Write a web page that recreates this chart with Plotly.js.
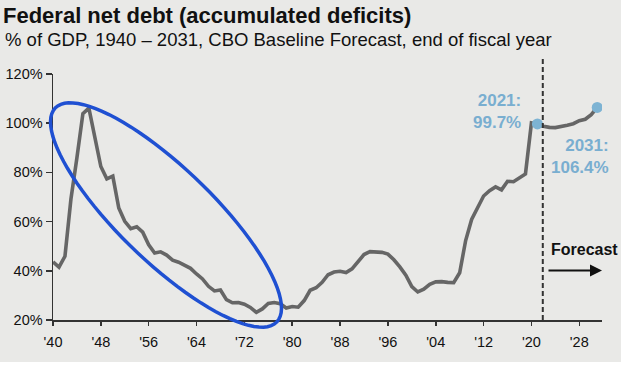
<!DOCTYPE html>
<html><head><meta charset="utf-8">
<script src="https://cdn.plot.ly/plotly-3.0.1.min.js"></script>
<style>html,body{margin:0;padding:0;background:#ffffff;} #chart{width:621px;height:362px;}</style>
</head><body><div id="chart"></div>
<script>
// ---- data ----
const years = [1940,1941,1942,1943,1944,1945,1946,1947,1948,1949,
  1950,1951,1952,1953,1954,1955,1956,1957,1958,1959,
  1960,1961,1962,1963,1964,1965,1966,1967,1968,1969,
  1970,1971,1972,1973,1974,1975,1976,1977,1978,1979,
  1980,1981,1982,1983,1984,1985,1986,1987,1988,1989,
  1990,1991,1992,1993,1994,1995,1996,1997,1998,1999,
  2000,2001,2002,2003,2004,2005,2006,2007,2008,2009,
  2010,2011,2012,2013,2014,2015,2016,2017,2018,2019,
  2020,2021,2022,2023,2024,2025,2026,2027,2028,2029,
  2030,2031];
const debtPct = [43.6,41.5,45.9,69.2,86.0,103.9,106.1,93.9,82.4,77.4,
  78.5,65.5,60.1,57.1,57.9,55.7,50.6,47.2,47.7,46.4,
  44.3,43.5,42.3,41.0,38.7,36.7,33.7,31.8,32.2,28.3,
  27.0,27.1,26.4,25.1,23.1,24.5,26.7,27.1,26.6,24.9,
  25.5,25.2,27.9,32.1,33.1,35.3,38.4,39.5,39.8,39.3,
  40.8,44.0,46.6,47.8,47.7,47.5,46.8,44.5,41.6,38.2,
  33.6,31.4,32.5,34.5,35.5,35.6,35.3,35.2,39.2,52.3,
  60.9,65.9,70.4,72.6,74.1,72.9,76.4,76.2,77.6,79.4,
  100.1,99.7,98.8,98.3,98.2,98.6,99.2,99.8,101.0,101.6,
  103.5,106.4];
const highlightYears = [2021, 2031];
const forecastStart = 2021.9;
const xTickVals = [1940,1948,1956,1964,1972,1980,1988,1996,2004,2012,2020,2028];
const xTickText = ["'40","'48","'56","'64","'72","'80","'88","'96","'04","'12","'20","'28"];
const yTickVals = [20,40,60,80,100,120];
const yTickText = ['20%','40%','60%','80%','100%','120%'];
const titleText = 'Federal net debt (accumulated deficits)';
const subtitleText = '% of GDP, 1940 \u2013 2031, CBO Baseline Forecast, end of fiscal year';

// ---- layout constants ----
const W = 621, H = 362;
const M = {l:53, r:19, t:74, b:42};
const PW = W - M.l - M.r, PH = H - M.t - M.b;
const FONT = 'Liberation Sans, Arial, Helvetica, sans-serif';
const hlBlue = '#7db3d3';
const hlText = '#79aed0';

const hlVals = highlightYears.map(y => debtPct[years.indexOf(y)]);

// rotated ellipse (pixel space) converted to paper coords
function ellipsePath(cx, cy, a, b, deg){
  const th = deg*Math.PI/180, n = 90;
  let d = '';
  for(let i=0;i<=n;i++){
    const t = 2*Math.PI*i/n;
    const px = cx + a*Math.cos(t)*Math.cos(th) - b*Math.sin(t)*Math.sin(th);
    const py = cy + a*Math.cos(t)*Math.sin(th) + b*Math.sin(t)*Math.cos(th);
    const xp = (px - M.l)/PW, yp = (H - M.b - py)/PH;
    d += (i===0?'M':'L') + xp.toFixed(5) + ',' + yp.toFixed(5);
  }
  return d + 'Z';
}

const traces = [
  {x: years, y: debtPct, type:'scatter', mode:'lines',
   line:{color:'#666666', width:3.6}, hoverinfo:'skip'},
  {x: highlightYears, y: hlVals, type:'scatter', mode:'markers',
   marker:{color:hlBlue, size:11}, hoverinfo:'skip'}
];

const layout = {
  width: W, height: H,
  margin: M,
  paper_bgcolor:'#e9e9e7', plot_bgcolor:'#e9e9e7',
  showlegend:false,
  font:{family:FONT, color:'#111111'},
  title:{text:'<b>'+titleText+'</b>', font:{family:FONT, size:22, color:'#111111'},
         xref:'container', x:3/W, xanchor:'left', yref:'container', y:1-15/H, yanchor:'middle'},
  xaxis:{range:[1940, 2031.8], tickvals:xTickVals, ticktext:xTickText,
         showgrid:false, zeroline:false, showline:true, linecolor:'#333333', linewidth:1.5,
         ticks:'outside', ticklen:4, tickwidth:1.5, tickcolor:'#333333', ticklabelstandoff:4,
         tickfont:{family:FONT, size:14.5, color:'#111111'}, fixedrange:true},
  yaxis:{range:[20,120], tickvals:yTickVals, ticktext:yTickText,
         showgrid:false, zeroline:false, showline:true, linecolor:'#333333', linewidth:1.5,
         ticks:'outside', ticklen:6, tickwidth:1.5, tickcolor:'#333333',
         tickfont:{family:FONT, size:14.5, color:'#111111'}, fixedrange:true},
  shapes:[
    {type:'line', xref:'x', yref:'paper', x0:forecastStart, x1:forecastStart, y0:0, y1:(H-M.b-58)/PH,
     line:{color:'#333333', width:2, dash:'5px,3px'}},
    {type:'path', xref:'paper', yref:'paper', path: ellipsePath(166,215,154,47,44),
     line:{color:'#1f50d2', width:3.5}, fillcolor:'rgba(0,0,0,0)', layer:'above'}
  ],
  annotations:[
    {xref:'paper', yref:'paper', x:(3-M.l)/PW, y:(H-M.b-39.5)/PH, xanchor:'left', yanchor:'middle',
     text:subtitleText, showarrow:false, font:{family:FONT, size:18.5, color:'#111111'}},
    {xref:'x', yref:'y', x:highlightYears[0], y:hlVals[0], xanchor:'right', yanchor:'middle',
     xshift:-14, yshift:12, align:'right', showarrow:false,
     text:'<b>'+highlightYears[0]+':<br>'+hlVals[0].toFixed(1)+'%</b>',
     font:{family:FONT, size:17, color:hlText}},
    {xref:'x', yref:'y', x:highlightYears[1], y:hlVals[1], xanchor:'right', yanchor:'middle',
     xshift:14, yshift:-49, align:'right', showarrow:false,
     text:'<b>'+highlightYears[1]+':<br>'+hlVals[1].toFixed(1)+'%</b>',
     font:{family:FONT, size:17, color:hlText}},
    {xref:'paper', yref:'paper', x:(549-M.l)/PW, y:(H-M.b-249)/PH, xanchor:'left', yanchor:'middle',
     text:'<b>Forecast</b>', showarrow:false, font:{family:FONT, size:16, color:'#111111'}},
    {xref:'paper', yref:'paper', x:(602-M.l)/PW, y:(H-M.b-270.5)/PH, text:'',
     showarrow:true, axref:'pixel', ayref:'pixel', ax:-55, ay:0,
     arrowhead:2, arrowsize:1.2, arrowwidth:2, arrowcolor:'#111111'}
  ]
};

Plotly.newPlot('chart', traces, layout, {staticPlot:true, displayModeBar:false});
</script></body></html>
